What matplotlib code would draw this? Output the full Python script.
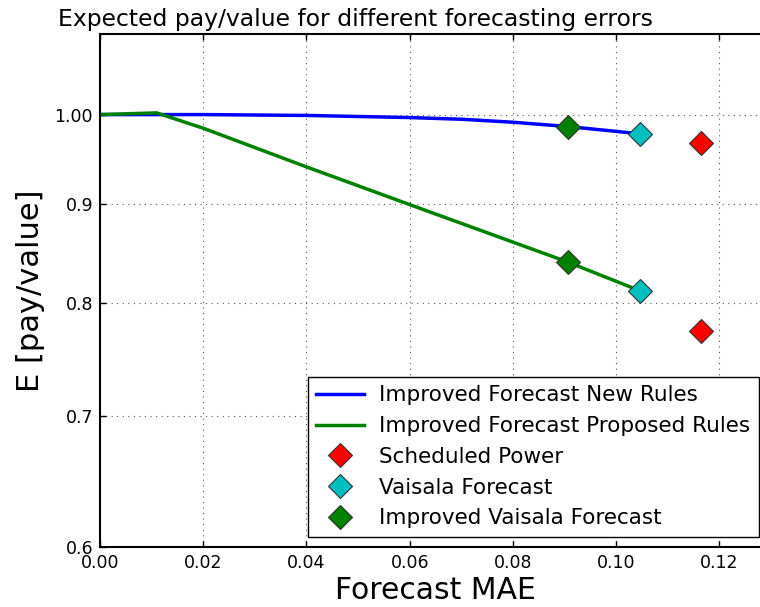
import numpy as np
import matplotlib
matplotlib.use("Agg")
import matplotlib.pyplot as plt
from matplotlib.ticker import FixedLocator, FixedFormatter, NullLocator

# Forecast MAE vs expected pay/value curves
mae_new = [0.0, 0.02, 0.04, 0.06, 0.07, 0.08, 0.0906, 0.1047]
pay_new = [1.000, 1.000, 0.999, 0.9965, 0.9945, 0.991, 0.986, 0.9775]

mae_prop = [0.0, 0.011, 0.02, 0.04, 0.06, 0.08, 0.0906, 0.1047]
pay_prop = [1.000, 1.002, 0.984, 0.940, 0.899, 0.860, 0.840, 0.8117]

# Reference forecasts: (new rules, proposed rules)
sched_mae = 0.1165
sched_pay = [0.9675, 0.7743]
vais_mae = 0.1047
vais_pay = [0.9775, 0.8117]
impr_mae = 0.0906
impr_pay = [0.9851, 0.8400]

yticks = [0.6, 0.7, 0.8, 0.9, 1.0]
ytick_labels = ["0.6", "0.7", "0.8", "0.9", "1.00"]
xticks = [0.0, 0.02, 0.04, 0.06, 0.08, 0.10, 0.12]
xtick_labels = ["0.00", "0.02", "0.04", "0.06", "0.08", "0.10", "0.12"]

fig = plt.figure(figsize=(7.6, 6.07), dpi=100)
ax = fig.add_axes([100 / 760, 60.5 / 607, 671 / 760, 512.5 / 607])

ax.plot(mae_new, pay_new, color="#0000ff", lw=2.5, label="Improved Forecast New Rules")
ax.plot(mae_prop, pay_prop, color="#008000", lw=2.5, label="Improved Forecast Proposed Rules")

mk = dict(marker="D", ms=12, mec="#333333", mew=0.8, ls="none")
ax.plot([sched_mae] * 2, sched_pay, color="#ff0000", label="Scheduled Power", **mk)
ax.plot([vais_mae] * 2, vais_pay, color="#00bfbf", label="Vaisala Forecast", **mk)
ax.plot([impr_mae] * 2, impr_pay, color="#008000", label="Improved Vaisala Forecast", **mk)

ax.set_yscale("log")
ax.set_ylim(0.6, 1.1)
ax.set_xlim(0.0, 0.13)
ax.yaxis.set_major_locator(FixedLocator(yticks))
ax.yaxis.set_major_formatter(FixedFormatter(ytick_labels))
ax.yaxis.set_minor_locator(NullLocator())
ax.set_xticks(xticks)
ax.set_xticklabels(xtick_labels)

ax.tick_params(which="both", direction="in", top=True, right=True,
               labelsize=12.5, length=4, width=1)
ax.tick_params(axis="x", pad=5.5)
ax.tick_params(axis="y", pad=5)
ax.grid(True, ls=(0, (1, 4)), color="0.35", lw=0.8)
for s in ax.spines.values():
    s.set_linewidth(1.5)

ax.set_xlabel("Forecast MAE", fontsize=21.5)
ax.set_ylabel("E [pay/value]", fontsize=22)
ax.yaxis.set_label_coords(-0.082, 0.5)
ax.xaxis.set_label_coords(0.5, -0.057)

fig.text(58 / 760, 1 - 26 / 607, "Expected pay/value for different forecasting errors",
         fontsize=16.9, ha="left", va="baseline")

leg = ax.legend(loc="lower right", bbox_to_anchor=(759 / 760, 70 / 607),
                bbox_transform=fig.transFigure, borderaxespad=0, numpoints=1,
                fontsize=15.5, fancybox=False, framealpha=1, edgecolor="black",
                handlelength=2.23, handletextpad=0.7, labelspacing=0.5,
                borderpad=0.4)
leg.get_frame().set_linewidth(1.0)

fig.savefig("out.png", dpi=100)
